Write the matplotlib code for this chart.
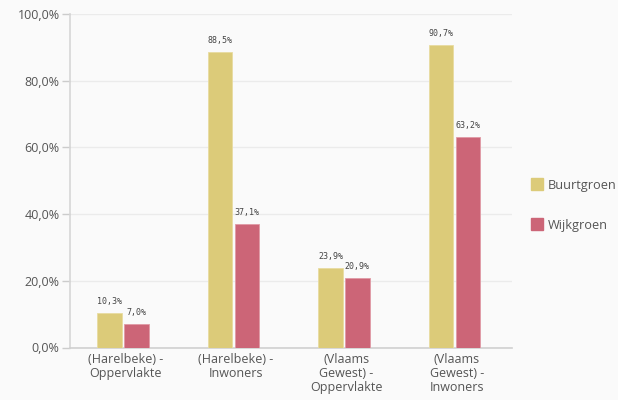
import matplotlib
matplotlib.use("Agg")
import matplotlib.pyplot as plt
import numpy as np
from matplotlib.lines import Line2D

categories = ["(Harelbeke) -\nOppervlakte", "(Harelbeke) -\nInwoners",
              "(Vlaams\nGewest) -\nOppervlakte", "(Vlaams\nGewest) -\nInwoners"]
buurtgroen = [10.3, 88.5, 23.9, 90.7]
wijkgroen = [7.0, 37.1, 20.9, 63.2]
series_names = ["Buurtgroen", "Wijkgroen"]
yticks = [0, 20, 40, 60, 80, 100]

col_b = "#dccb79"
col_w = "#cc6577"
bg = "#fafafa"
txt = "#555555"

plt.rcParams['font.family'] = ['Open Sans', 'DejaVu Sans']

fig = plt.figure(figsize=(6.18, 4.0), dpi=100, facecolor=bg)
ax = fig.add_axes([70/618, 1-347.5/400, (512-70)/618, (347.5-14)/400])
ax.set_facecolor(bg)

x = np.arange(len(categories))
w = 0.222
gap = 0.01
off = -0.02
b1 = ax.bar(x + off - w/2 - gap, buurtgroen, w, color=col_b, edgecolor="#e8dca0", linewidth=0.6, zorder=3)
b2 = ax.bar(x + off + w/2 + gap, wijkgroen, w, color=col_w, edgecolor="#e09aa5", linewidth=0.6, zorder=3)

for bars, vals in ((b1, buurtgroen), (b2, wijkgroen)):
    for r, v in zip(bars, vals):
        ax.annotate(f"{v:.1f}%".replace(".", ","), (r.get_x() + r.get_width()/2, v),
                    xytext=(0, 5), textcoords="offset points", ha="center", va="bottom",
                    fontsize=6, family="DejaVu Sans Mono", color="#444444")

ax.set_xlim(-0.5, len(categories) - 0.5)
ax.set_ylim(0, 100)
ax.set_yticks(yticks)
ax.set_yticklabels([f"{t:.1f}%".replace(".", ",") for t in yticks])
ax.set_xticks(x)
ax.set_xticklabels(categories, linespacing=1.12)
ax.tick_params(axis="y", colors="#cccccc", labelcolor=txt, labelsize=9, length=6, width=1, pad=1.5)
ax.tick_params(axis="x", length=0, labelcolor=txt, labelsize=9, pad=4)
ax.grid(axis="y", color="#ebebeb", linewidth=1, zorder=0)
for s in ("top", "right"):
    ax.spines[s].set_visible(False)
ax.spines["left"].set_color("#d6d6d6")
ax.spines["bottom"].set_color("#d0d0d0")
ax.spines["left"].set_linewidth(1.2)
ax.spines["bottom"].set_linewidth(1.2)

handles = [Line2D([], [], marker="s", linestyle="none", markersize=8, color=c)
           for c in (col_b, col_w)]
leg = fig.legend(handles, series_names, loc="upper left", bbox_to_anchor=(520/618, 1-170/400),
                 frameon=False, fontsize=9.2, labelspacing=2.1, handletextpad=0.3,
                 labelcolor=txt, handlelength=1.2, borderpad=0.2)

fig.savefig("out.png", dpi=100, facecolor=bg)
